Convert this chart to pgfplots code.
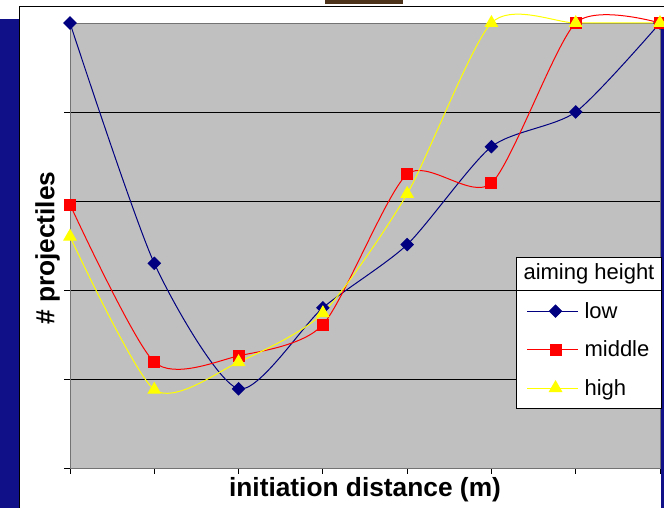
\documentclass[border=0pt]{standalone}
\usepackage{pgfplots}
\pgfplotsset{compat=1.18}
\usetikzlibrary{calc}
\usepackage{fontspec}
\setmainfont{Liberation Sans}
\definecolor{navyline}{RGB}{0,0,128}
\definecolor{stripblue}{RGB}{16,16,136}
\definecolor{plotgray}{RGB}{192,192,192}
\definecolor{myyellow}{RGB}{255,255,0}
\begin{document}
\begin{tikzpicture}
\useasboundingbox (0,0) rectangle (664pt,508pt);
\fill[white] (0,0) rectangle (664pt,508pt);
\fill[stripblue] (0,0) rectangle (19pt,489pt);
\fill[stripblue] (661pt,0) rectangle (664pt,485pt);
\fill[brown!40!black] (325pt,504pt) rectangle (403pt,508pt);
\draw[black, line width=1pt] (19pt,0) -- (19pt,501pt) -- (664pt,501pt);
\begin{axis}[
 at={(70pt,40pt)}, anchor=south west, scale only axis, width=590pt, height=445pt,
 xmin=0, xmax=7, ymin=0, ymax=5,
 xtick={0,...,7}, ytick={0,...,5}, xticklabels={}, yticklabels={},
 tick align=outside, major tick length=6pt, xtick pos=bottom, ytick pos=left,
 ymajorgrids, grid style={black, line width=0.9pt},
 axis background/.style={fill=plotgray},
 axis line style={black!55, line width=0.9pt},
 tick style={black, line width=0.8pt},
 clip=false,
 xlabel={initiation distance (m)}, ylabel={\# projectiles},
 every axis x label/.style={at={(axis description cs:0.5,-0.0494)},anchor=center,font=\fontsize{26.3}{30}\selectfont\bfseries},
 every axis y label/.style={at={(axis description cs:-0.038,0.494)},rotate=90,anchor=center,font=\fontsize{26.3}{30}\selectfont\bfseries},
 legend style={name=leg, at={(axis description cs:1.003,0.4)}, anchor=north east, draw=black, fill=white, font=\fontsize{22}{26}\selectfont, row sep=17pt, column sep=4pt, inner xsep=10pt, inner ysep=10pt, line width=0.8pt},
 legend cell align=left,
 legend image code/.code={\path (-6pt,0pt) -- (45pt,0pt); \draw[mark repeat=2,mark phase=2,#1] plot coordinates {(0pt,0pt) (22.5pt,0pt) (45pt,0pt)};},
]
\addplot[navyline, line width=1pt, smooth, tension=0.42, mark=square*, mark size=4.3pt, mark options={fill=navyline, draw=navyline, rotate=45}]
 coordinates {(0,5) (1,2.30) (2,0.89) (3,1.80) (4,2.51) (5,3.61) (6,4.0) (7,5)};
\addlegendentry{low}
\addplot[red, line width=1pt, smooth, tension=0.42, mark=square*, mark size=5.5pt, mark options={fill=red, draw=red}]
 coordinates {(0,2.96) (1,1.19) (2,1.26) (3,1.61) (4,3.30) (5,3.20) (6,5) (7,5)};
\addlegendentry{middle}
\addplot[myyellow, line width=1pt, smooth, tension=0.42, mark=triangle*, mark size=7pt, mark options={fill=myyellow, draw=myyellow}]
 coordinates {(0,2.60) (1,0.88) (2,1.19) (3,1.74) (4,3.08) (5,5) (6,5) (7,5)};
\addlegendentry{high}
\end{axis}
\draw[black, line width=0.8pt, fill=white] (leg.north west) rectangle ($(leg.north east)+(0,33pt)$);
\node[font=\fontsize{22}{26}\selectfont] at ($(leg.north)+(0,16.5pt)$) {aiming height};
\end{tikzpicture}
\end{document}
